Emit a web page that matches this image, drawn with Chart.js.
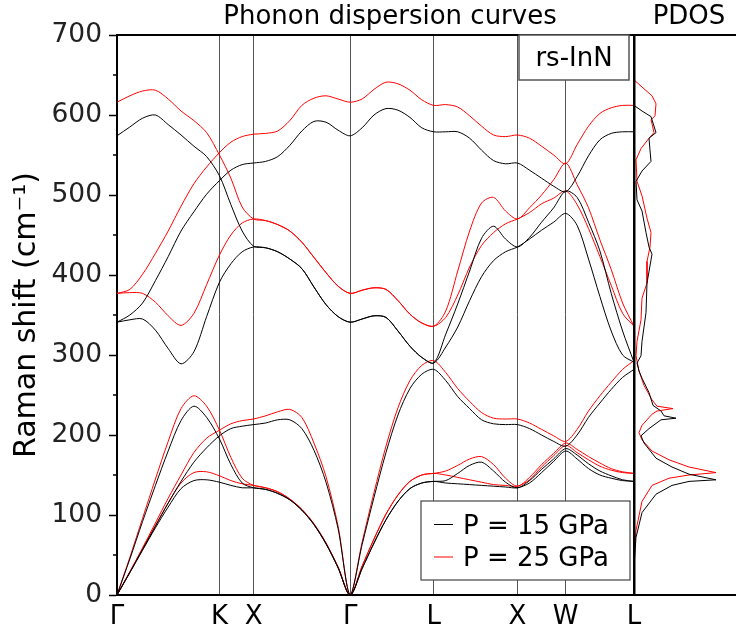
<!DOCTYPE html>
<html lang="en">
<head>
<meta charset="UTF-8">
<title>rs-InN phonon dispersion and PDOS</title>
<script src="https://cdn.jsdelivr.net/npm/chart.js@4/dist/chart.umd.min.js"></script>
<style>
  html, body { margin: 0; padding: 0; background: #fff; }
  #wrap { position: relative; width: 736px; height: 636px; overflow: hidden; }
  #disp { position: absolute; left: 0; top: 0; }
  #pdos { position: absolute; left: 632px; top: 0; }
</style>
</head>
<body>
<div id="wrap">
  <canvas id="disp" width="650" height="636"></canvas>
  <canvas id="pdos" width="104" height="636"></canvas>
</div>
<script>
// path coordinate along Γ-K-X-Γ-L-X-W-L (2π/a units)
const kPath = [0, 0.133, 0.265, 0.398, 0.530, 0.663, 0.796, 0.928, 1.061,
  1.179, 1.296, 1.414,
  1.539, 1.664, 1.789, 1.914, 2.039, 2.164, 2.289, 2.414,
  2.538, 2.661, 2.785, 2.909, 3.033, 3.156, 3.280,
  3.404, 3.528, 3.651, 3.775, 3.899, 4.023, 4.146,
  4.271, 4.396, 4.521, 4.646,
  4.764, 4.882, 5.000, 5.117, 5.235, 5.353];
const kTicks = [0, 1.061, 1.414, 2.414, 3.280, 4.146, 4.646, 5.353];
const kLabels = ['Γ', 'K', 'X', 'Γ', 'L', 'X', 'W', 'L'];
const yMinor = [50, 150, 250, 350, 450, 550, 650];

// P = 15 GPa bands (cm-1)
const b15_1 = [0, 45, 92, 137, 180, 218, 236, 222, 195, 163, 140, 134, 132, 127, 119, 106, 88, 64, 34, 0, 33, 65, 94, 117, 133, 140, 142, 143, 152, 162, 166, 155, 141, 134, 143, 157, 170, 183, 175, 164, 155, 149, 144, 142];
const b15_2 = [0, 28, 56, 84, 110, 133, 143, 144, 141, 137, 134, 134, 132, 127, 119, 106, 88, 64, 34, 0, 33, 65, 94, 117, 133, 140, 142, 140, 139, 138, 137, 136, 135, 134, 140, 153, 167, 180, 170, 158, 150, 146, 143, 142];
const b15_3 = [0, 28, 57, 86, 115, 142, 166, 184, 199, 208, 211, 213, 215, 219, 219, 208, 181, 141, 83, 0, 63, 122, 178, 225, 258, 276, 282, 268, 248, 233, 219, 214, 213, 213, 208, 200, 192, 186, 200, 222, 240, 257, 272, 282];
const b15_4 = [341, 344, 345, 331, 308, 289, 304, 348, 391, 414, 429, 435, 434, 429, 420, 408, 385, 363, 348, 341, 345, 349, 347, 330, 311, 297, 290, 310, 335, 368, 398, 418, 429, 435, 445, 456, 466, 477, 462, 420, 373, 330, 300, 291];
const b15_5 = [574, 585, 596, 600, 588, 575, 561, 548, 524, 488, 455, 436, 434, 429, 420, 408, 385, 363, 348, 341, 345, 349, 347, 330, 311, 297, 290, 326, 364, 405, 446, 461, 445, 435, 447, 466, 484, 505, 497, 466, 430, 377, 330, 291];
const b15_6 = [341, 350, 365, 393, 423, 455, 479, 501, 518, 531, 538, 540, 542, 548, 562, 580, 592, 591, 581, 574, 584, 600, 608, 606, 597, 584, 579, 579, 579, 571, 556, 543, 539, 540, 531, 521, 511, 504, 523, 549, 569, 577, 579, 579];

// P = 25 GPa bands (cm-1)
const b25_1 = [0, 47, 96, 145, 192, 233, 249, 236, 206, 172, 146, 137, 134, 129, 120, 107, 89, 65, 35, 0, 36, 70, 101, 125, 142, 150, 152, 155, 162, 170, 173, 163, 146, 136, 147, 163, 177, 190, 182, 173, 165, 158, 154, 152];
const b25_2 = [0, 29, 58, 87, 115, 140, 153, 154, 149, 143, 139, 137, 134, 129, 120, 107, 89, 65, 35, 0, 36, 70, 101, 125, 142, 150, 152, 150, 147, 144, 141, 138, 137, 136, 144, 160, 174, 187, 178, 169, 161, 156, 153, 152];
const b25_3 = [0, 29, 59, 90, 121, 150, 178, 196, 206, 214, 218, 220, 224, 229, 232, 222, 190, 148, 86, 0, 66, 128, 186, 234, 268, 287, 293, 278, 258, 242, 228, 221, 220, 220, 215, 207, 199, 192, 207, 230, 249, 266, 282, 293];
const b25_4 = [377, 378, 377, 366, 349, 337, 352, 388, 425, 450, 465, 470, 468, 463, 455, 441, 422, 403, 386, 377, 381, 384, 382, 368, 351, 340, 336, 347, 375, 410, 437, 453, 464, 470, 478, 489, 496, 505, 488, 458, 423, 387, 352, 336];
const b25_5 = [616, 624, 630, 631, 620, 605, 593, 578, 550, 521, 485, 470, 468, 463, 455, 441, 422, 403, 386, 377, 381, 384, 382, 368, 351, 340, 336, 355, 405, 455, 490, 497, 480, 470, 484, 500, 519, 540, 513, 484, 444, 407, 365, 336];
const b25_6 = [377, 382, 401, 427, 455, 486, 514, 535, 553, 566, 573, 576, 577, 580, 593, 612, 621, 624, 620, 616, 620, 632, 641, 639, 631, 619, 612, 613, 610, 599, 586, 575, 573, 575, 571, 561, 550, 539, 563, 586, 602, 609, 612, 612];

// phonon DOS (arbitrary units) vs frequency
const pdosF15 = [612, 605, 598, 578, 571, 556, 542, 530, 517, 494, 480, 453, 435, 426, 390, 353, 317, 299, 290, 280, 271, 253, 237, 230, 224, 221, 219, 208, 199, 190, 171, 160, 151, 144, 142, 137, 126, 103, 72, 35, 0];
const pdosD15 = [0, 8, 17, 22, 15, 16, 17, 8, 2, 3, 8, 12, 15, 18, 13, 12, 8, 7, 3, 5, 8, 15, 19, 27, 30, 42, 27, 15, 7, 10, 22, 38, 55, 82, 55, 38, 22, 8, 2, 0, 0];
const pdosF25 = [644, 635, 624, 614, 599, 594, 589, 578, 571, 558, 544, 517, 499, 471, 453, 435, 417, 390, 371, 344, 317, 299, 280, 262, 244, 236, 233, 230, 226, 212, 203, 194, 180, 169, 160, 153, 150, 146, 137, 117, 81, 49, 0];
const pdosD25 = [0, 8, 18, 22, 21, 17, 18, 20, 15, 7, 2, 3, 8, 13, 17, 16, 13, 13, 8, 7, 3, 2, 5, 10, 18, 23, 39, 23, 18, 8, 5, 8, 18, 35, 55, 82, 55, 35, 18, 8, 2, 0, 0];

const legendLabels = ['P = 15 GPa', 'P = 25 GPa'];
const BLACK = '#000000';
const RED = '#ff0000';
const FONT = "'DejaVu Sans', sans-serif";

Chart.defaults.font.family = FONT;
Chart.defaults.color = '#000';

function bandSet(vals, color) {
  return {
    data: kPath.map((k, i) => ({ x: k, y: vals[i] })),
    borderColor: color,
    borderWidth: 1,
    pointRadius: 0,
    tension: 0.3,
    fill: false
  };
}

const dispFrame = {
  id: 'dispFrame',
  afterDraw(chart) {
    const { ctx, chartArea: a, scales: { y } } = chart;
    ctx.save();
    // top frame line
    ctx.strokeStyle = '#000';
    ctx.lineWidth = 2;
    ctx.beginPath();
    ctx.moveTo(a.left - 1, a.top);
    ctx.lineTo(chart.width, a.top);
    ctx.stroke();
    // minor y ticks
    ctx.lineWidth = 1.5;
    yMinor.forEach(v => {
      const py = y.getPixelForValue(v);
      ctx.beginPath();
      ctx.moveTo(a.left - 4, py);
      ctx.lineTo(a.left, py);
      ctx.stroke();
    });
    // title
    ctx.fillStyle = '#000';
    ctx.font = '26px ' + FONT;
    ctx.textAlign = 'center';
    ctx.textBaseline = 'alphabetic';
    ctx.fillText('Phonon dispersion curves', 390, 24);
    // material label box
    ctx.fillStyle = '#fff';
    ctx.fillRect(519, a.top, 110, 45);
    ctx.strokeStyle = '#555';
    ctx.lineWidth = 1.5;
    ctx.strokeRect(519, a.top, 110, 45);
    ctx.fillStyle = '#000';
    ctx.fillText('rs-InN', 574, 66);
    // legend
    ctx.fillStyle = '#fff';
    ctx.fillRect(421, 501, 209, 79);
    ctx.strokeStyle = '#444';
    ctx.lineWidth = 1.2;
    ctx.strokeRect(421, 501, 209, 79);
    [BLACK, RED].forEach((c, i) => {
      const ly = 524.5 + i * 32.5;
      ctx.strokeStyle = c;
      ctx.lineWidth = 1;
      ctx.beginPath();
      ctx.moveTo(434, ly);
      ctx.lineTo(453, ly);
      ctx.stroke();
      ctx.fillStyle = '#000';
      ctx.textAlign = 'left';
      ctx.fillText(legendLabels[i], 463, ly + 9);
    });
    ctx.restore();
  }
};

new Chart(document.getElementById('disp'), {
  type: 'line',
  data: {
    datasets: [b15_1, b15_2, b15_3, b15_4, b15_5, b15_6].map(b => bandSet(b, BLACK))
      .concat([b25_1, b25_2, b25_3, b25_4, b25_5, b25_6].map(b => bandSet(b, RED)))
  },
  options: {
    responsive: false,
    animation: false,
    layout: { padding: { top: 35, right: 16, left: 0, bottom: 0 } },
    plugins: { legend: { display: false }, tooltip: { enabled: false } },
    scales: {
      x: {
        type: 'linear',
        min: 0,
        max: 5.353,
        afterBuildTicks: s => { s.ticks = kTicks.map(v => ({ value: v })); },
        afterFit: s => { s.height = 41; },
        ticks: {
          autoSkip: false,
          maxRotation: 0,
          padding: 7,
          color: '#000',
          font: { size: 26 },
          callback: (v, i) => kLabels[i]
        },
        grid: { color: '#555', lineWidth: 1, drawTicks: false },
        border: { display: true, color: '#000', width: 2 }
      },
      y: {
        min: 0,
        max: 700,
        afterFit: s => { s.width = 117; },
        ticks: { stepSize: 100, padding: 7, color: '#222', font: { size: 26.5 } },
        grid: { drawOnChartArea: false, tickLength: 8, tickColor: '#000', tickWidth: 1.5 },
        border: { display: true, color: '#000', width: 2 },
        title: {
          display: true,
          text: 'Raman shift (cm⁻¹)',
          color: '#000',
          font: { size: 30 },
          padding: { top: 9, bottom: 0 }
        }
      }
    }
  },
  plugins: [dispFrame]
});

const pdosFrame = {
  id: 'pdosFrame',
  afterDraw(chart) {
    const { ctx, chartArea: a } = chart;
    ctx.save();
    ctx.strokeStyle = '#000';
    ctx.lineWidth = 2;
    ctx.beginPath();
    ctx.moveTo(0, a.top);
    ctx.lineTo(chart.width, a.top);
    ctx.moveTo(0, a.bottom);
    ctx.lineTo(chart.width, a.bottom);
    ctx.stroke();
    ctx.fillStyle = '#000';
    ctx.fillRect(a.left - 1, a.top, 2.5, a.bottom - a.top);
    ctx.font = '26px ' + FONT;
    ctx.textAlign = 'center';
    ctx.fillText('PDOS', 57, 24);
    ctx.restore();
  }
};

function dosSet(freq, dos, color) {
  return {
    data: freq.map((f, i) => ({ x: dos[i], y: f })),
    borderColor: color,
    borderWidth: 1,
    pointRadius: 0,
    tension: 0,
    fill: false
  };
}

new Chart(document.getElementById('pdos'), {
  type: 'scatter',
  data: {
    datasets: [
      dosSet(pdosF15, pdosD15, BLACK),
      dosSet(pdosF25, pdosD25, RED)
    ]
  },
  options: {
    responsive: false,
    animation: false,
    showLine: true,
    layout: { padding: { top: 35, bottom: 41, left: 2, right: 0 } },
    plugins: { legend: { display: false }, tooltip: { enabled: false } },
    scales: {
      x: { type: 'linear', min: 0, max: 102, display: false },
      y: { type: 'linear', min: 0, max: 700, display: false }
    }
  },
  plugins: [pdosFrame]
});
</script>
</body>
</html>
